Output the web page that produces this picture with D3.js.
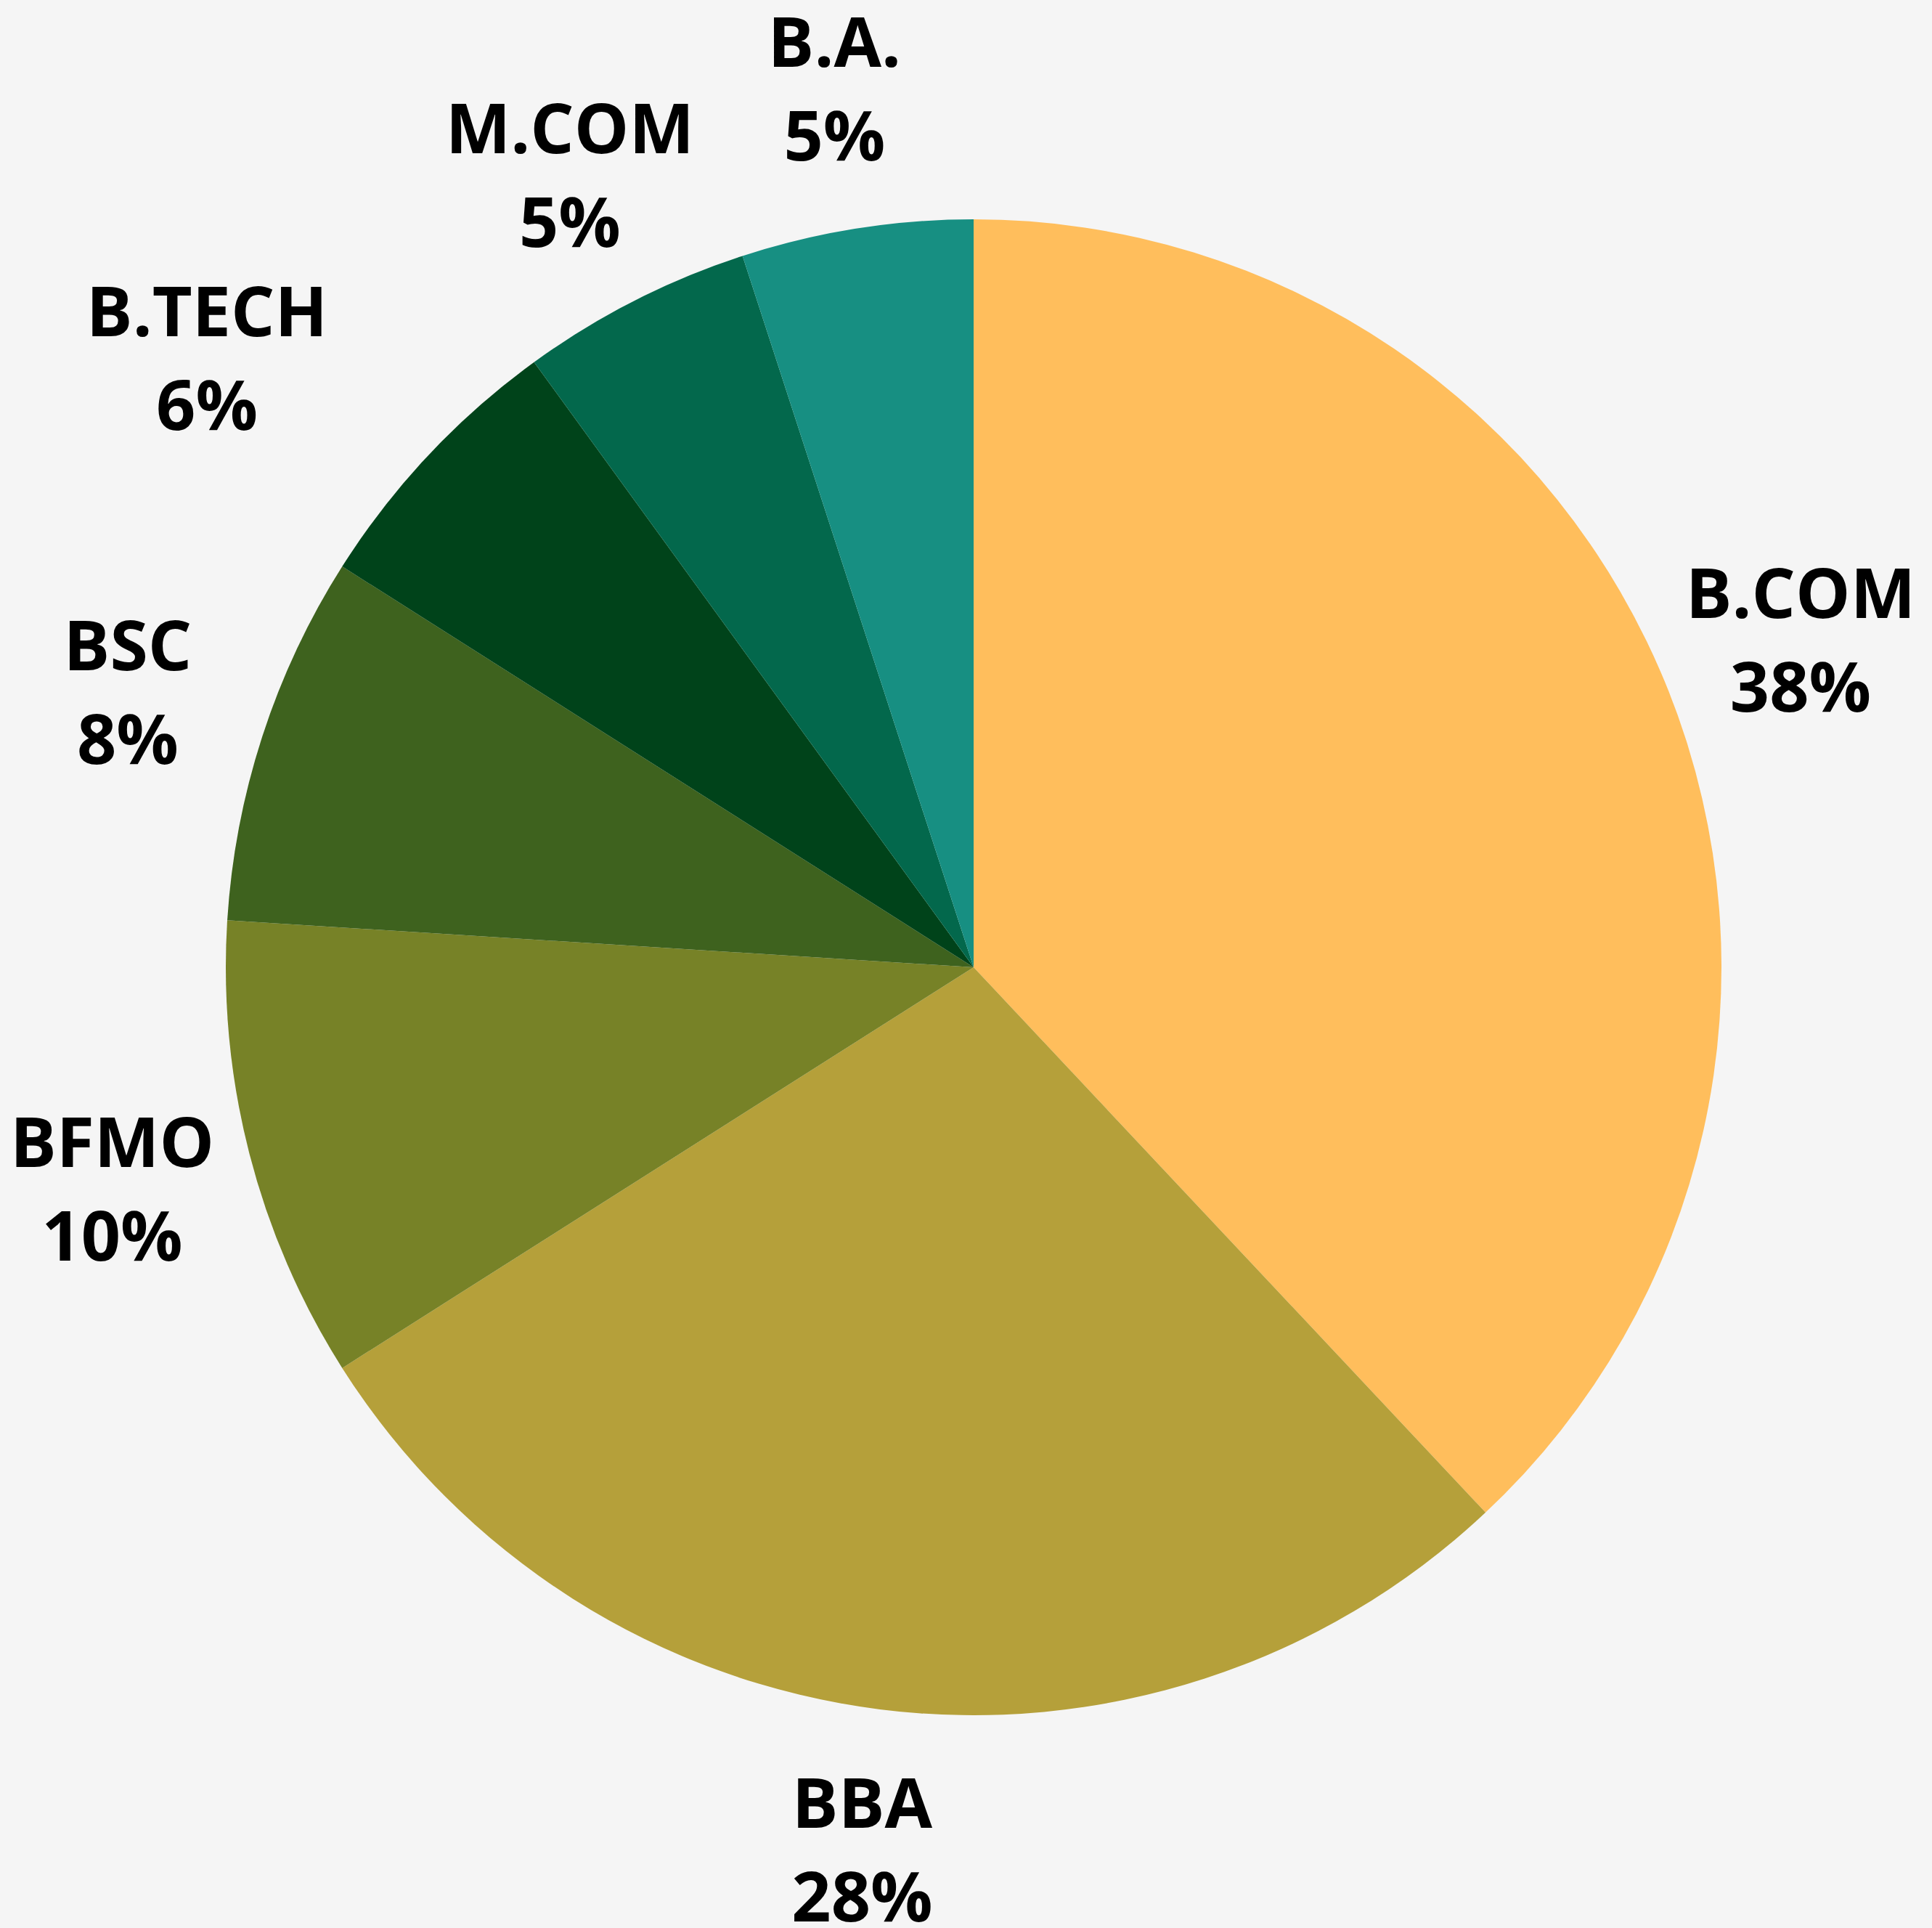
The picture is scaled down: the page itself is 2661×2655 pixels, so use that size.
<!DOCTYPE html>
<html>
<head>
<meta charset="utf-8">
<script src="https://cdn.jsdelivr.net/npm/d3@7"></script>
<style>
  html, body { margin: 0; padding: 0; background: #f5f5f5; }
  svg { display: block; }
</style>
</head>
<body>
<svg width="2661" height="2655"></svg>
<script>
// data, clockwise from 12 o'clock
var courses = ["B.COM", "BBA", "BFMO", "BSC", "B.TECH", "M.COM", "B.A."]
var shares = [38, 28, 10, 8, 6, 5, 5]
var colors = ["#FFBE5C", "#B5A03A", "#778227", "#3E621E", "#00431A", "#03684C", "#178F82"]

var width = 2661, height = 2655
var cx = 1341, cy = 1332
var radius = 1030
var labelRadius = 1225
// B.TECH label is pushed sideways in the original so it clears M.COM
var labelNudgeX = { "B.TECH": -163 }

var svg = d3.select("svg")
svg.append("rect").attr("width", width).attr("height", height).attr("fill", "#f5f5f5")

var g = svg.append("g").attr("transform", "translate(" + cx + "," + cy + ")")

var pie = d3.pie().sort(null).value(function(d) { return d.value })
var arcs = pie(courses.map(function(c, i) { return { name: c, value: shares[i], color: colors[i] } }))

var arc = d3.arc().innerRadius(0).outerRadius(radius)
var labelArc = d3.arc().innerRadius(labelRadius).outerRadius(labelRadius)

g.selectAll("path.slice")
  .data(arcs)
  .enter().append("path")
  .attr("class", "slice")
  .attr("d", arc)
  .attr("fill", function(d) { return d.data.color })

// two-line labels, block centred on the label point
var lab = g.selectAll("text.lab")
  .data(arcs)
  .enter().append("text")
  .attr("class", "lab")
  .attr("transform", function(d) {
    var c = labelArc.centroid(d)
    c[0] += labelNudgeX[d.data.name] || 0
    return "translate(" + c + ")"
  })
  .attr("text-anchor", "middle")
  .style("font-family", "'Open Sans', sans-serif")
  .style("font-weight", 700)
  .style("font-size", "95px")
  .attr("fill", "#000")

lab.append("tspan").attr("x", 0).attr("y", -30)
  .text(function(d) { return d.data.name })
lab.append("tspan").attr("x", 0).attr("y", 99)
  .text(function(d) { return d.data.value + "%" })
</script>
</body>
</html>
